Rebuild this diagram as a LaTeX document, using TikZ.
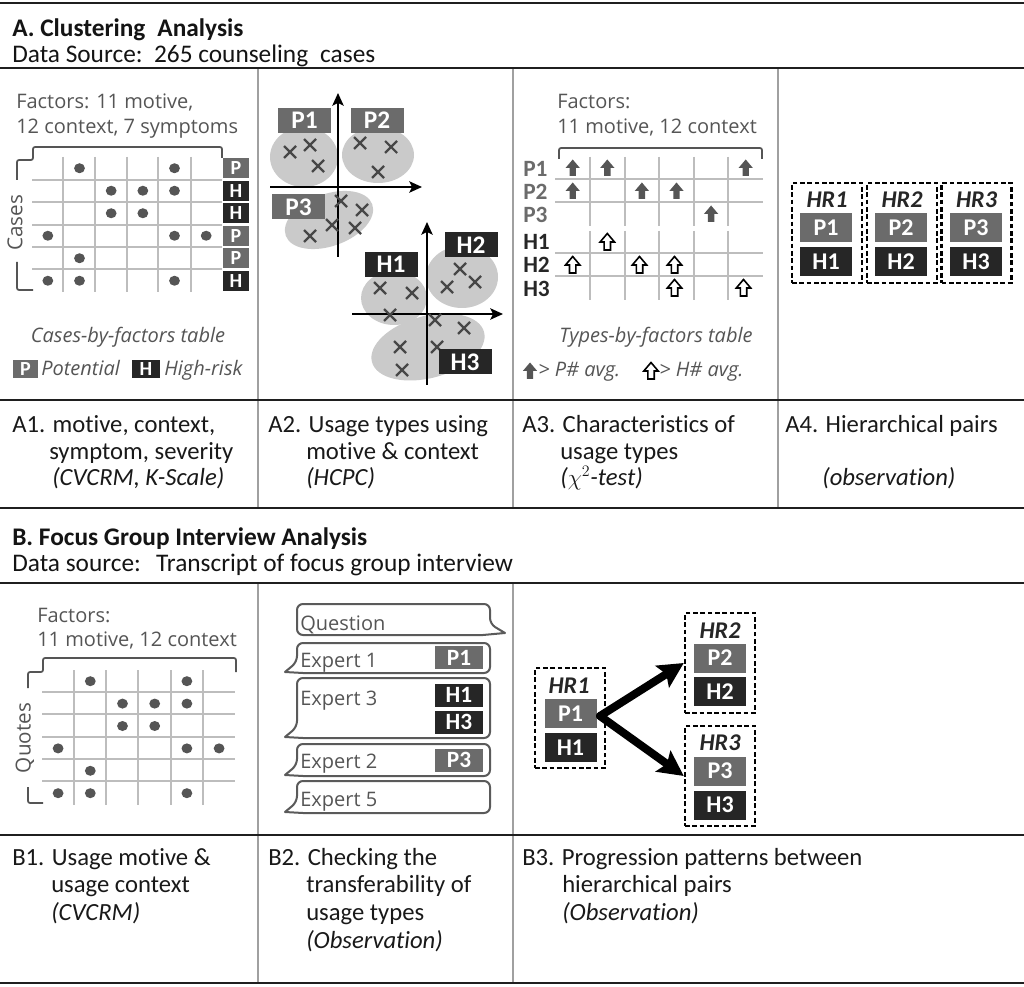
\documentclass[tikz,border=0pt]{standalone}
\usepackage{fontspec}
\setmainfont{Carlito}[Ligatures={CommonOff,ContextualOff}]
\newfontfamily\osans{Open Sans}
\usetikzlibrary{arrows.meta}
\definecolor{pg}{HTML}{6B6B6B}
\definecolor{hb}{HTML}{262626}
\definecolor{txg}{HTML}{555555}
\definecolor{gl}{HTML}{BDBDBD}
\definecolor{ellc}{HTML}{CACACA}
\definecolor{sep}{HTML}{A0A0A0}
\definecolor{crsc}{HTML}{474747}
\definecolor{bubc}{HTML}{5A5A5A}
\newcommand\crossat[2]{\draw[crossst] (#1-6,#2-6) -- (#1+6,#2+6) (#1-6,#2+6) -- (#1+6,#2-6);}
\newcommand\blkup[3]{\draw[#1] (#2,#3-8.5) -- (#2+7.2,#3) -- (#2+3.2,#3) -- (#2+3.2,#3+8) -- (#2-3.2,#3+8) -- (#2-3.2,#3) -- (#2-7.2,#3) -- cycle;}
\newcommand\lbub[2]{\draw[bub] (285,#2-1) -- (303,#2) [rounded corners=4.5pt] -- (490,#2) -- (490,#1) -- (297,#1) -- (297,#2-11) [sharp corners] -- cycle;}
\begin{document}
\begin{tikzpicture}[x=0.75pt,y=-0.75pt,
  hline/.style={line width=2pt, draw=black!88},
  vsep/.style={line width=1.4pt, draw=sep},
  gridl/.style={line width=1pt, draw=gl},
  brk/.style={line width=1.3pt, draw=txg, rounded corners=1.5pt},
  dotc/.style={fill=txg},
  pbox/.style={rectangle, fill=pg, text=white, inner sep=0pt},
  hbox/.style={pbox, fill=hb},
  smallbox/.style={minimum width=19.5pt, minimum height=15pt, font=\bfseries\fontsize{15}{15}\selectfont},
  a2box/.style={minimum width=39.75pt, minimum height=18.75pt, font=\bfseries\fontsize{19}{19}\selectfont},
  boxb/.style={minimum width=39pt, minimum height=21.75pt, font=\bfseries\fontsize{18}{18}\selectfont},
  b2box/.style={minimum width=36pt, minimum height=17.25pt, font=\bfseries\fontsize{17.5}{17.5}\selectfont},
  hrbox/.style={draw=black, line width=1.8pt, dash pattern=on 3.5pt off 2pt, inner sep=0pt, minimum width=52.5pt, minimum height=75pt},
  hrlab/.style={inner sep=0pt, font=\bfseries\itshape\fontsize{18}{18}\selectfont, text=hb},
  ftxt/.style={font=\osans\fontsize{15}{18}\selectfont, text=txg, inner sep=0pt, anchor=base west},
  fitxt/.style={font=\osans\itshape\fontsize{15}{18}\selectfont, text=txg, inner sep=0pt},
  rtxt/.style={font=\fontsize{18.5}{22}\selectfont, text=black!90, inner sep=0pt, anchor=base west},
  ttl/.style={font=\bfseries\fontsize{19}{23}\selectfont, text=black!92, inner sep=0pt, anchor=base west},
  sub/.style={font=\fontsize{19}{23}\selectfont, text=black!92, inner sep=0pt, anchor=base west},
  rowlab/.style={font=\bfseries\fontsize{17.5}{17.5}\selectfont, inner sep=0pt, anchor=base west},
  axis/.style={line width=1.5pt, draw=black, -{Stealth[length=9.5pt,width=8.5pt,inset=2pt]}},
  crossst/.style={line width=1.6pt, draw=crsc},
  upf/.style={fill=txg, draw=none},
  upo/.style={fill=white, draw=black, line width=1.2pt, line join=miter},
  bub/.style={draw=bubc, line width=1.5pt, fill=white, line join=round},
  bigarr/.style={line width=6pt, draw=black, line cap=round, -{Stealth[length=19pt,width=19pt,inset=3.5pt]}}
]
\useasboundingbox (0,0) rectangle (1024,987);
\fill[white] (0,0) rectangle (1024,987);

% ---------- frame ----------
\foreach \x in {258,513,778} \draw[vsep] (\x,68) -- (\x,508);
\foreach \x in {258,513} \draw[vsep] (\x,583) -- (\x,983);
\foreach \y in {3,68,400,508,583,835,983} \draw[hline] (0,\y) -- (1024,\y);

% ---------- titles ----------
\node[ttl] (ta) at (12,37) {A. Clustering\hspace{0.25em} Analysis};
\node[sub] (sa) at (12,63) {Data Source:\hspace{0.15em} 265 counseling\hspace{0.25em} cases};
\node[ttl] (tb) at (12,545) {B. Focus Group Interview Analysis};
\node[sub] (sb) at (12,571) {Data source:\hspace{0.3em} Transcript of focus group interview};

% ---------- A1 ----------
\node[ftxt] (a1f1) at (16,109) {Factors: 11 motive,};
\node[ftxt] (a1f2) at (16,134) {12 context, 7 symptoms};
\draw[brk] (17,180) -- (17,160) -- (33,160) -- (33,147) -- (222,147) -- (222,158);
\draw[brk] (17,262) -- (17,290) -- (33,290);
\node[font=\osans\fontsize{15.5}{18}\selectfont, text=txg, rotate=90, inner sep=0pt] (a1cases) at (15,223) {Cases};
\foreach \x in {63,95,127,158,191} \draw[gridl] (\x,157) -- (\x,292);
\foreach \y in {180,202,225,247,269} \draw[gridl] (32,\y) -- (222,\y);
\foreach \c/\r in {2/1,5/1,3/2,4/2,5/2,3/3,4/3,1/4,5/4,6/4,2/5,1/6,2/6,5/6}
  \fill[dotc] ({32+(\c-0.5)*31.67},{157+(\r-0.5)*22.5}) ellipse [x radius=5.4, y radius=5];
\node[pbox,smallbox] (a1l1) at (236,168.2) {P};
\node[hbox,smallbox] (a1l2) at (236,190.8) {H};
\node[hbox,smallbox] (a1l3) at (236,213.2) {H};
\node[pbox,smallbox] (a1l4) at (236,235.8) {P};
\node[pbox,smallbox] (a1l5) at (236,258.2) {P};
\node[hbox,smallbox] (a1l6) at (236,280.8) {H};
\node[fitxt, anchor=base] (a1cap) at (128,343) {Cases-by-factors table};
\node[pbox,smallbox,minimum width=18.75pt,minimum height=13.5pt] (a1lp) at (25.5,369) {P};
\node[fitxt, anchor=base west] (a1pot) at (41,376) {Potential};
\node[hbox,smallbox,minimum width=21pt,minimum height=13.5pt] (a1lh) at (146,369) {H};
\node[fitxt, anchor=base west] (a1hr) at (164,376) {High-risk};

% ---------- A2 ----------
\fill[ellc] (304,157) ellipse [x radius=34, y radius=30];
\fill[ellc] (378,155) ellipse [x radius=36, y radius=28];
\fill[ellc, rotate around={20:(329,220)}] (329,220) ellipse [x radius=46, y radius=26];
\fill[ellc] (394,298) ellipse [x radius=33, y radius=27];
\fill[ellc] (462,277) ellipse [x radius=36, y radius=31];
\fill[ellc, rotate around={15:(428,347)}] (428,347) ellipse [x radius=58, y radius=31];
\coordinate (ax1b) at (338,257); \coordinate (ax1t) at (338,93);
\coordinate (ax1l) at (270,187); \coordinate (ax1r) at (422,187);
\coordinate (ax2b) at (427,385); \coordinate (ax2t) at (427,222);
\coordinate (ax2l) at (352,314); \coordinate (ax2r) at (503,314);
\draw[axis] (ax1b) -- (ax1t);
\draw[axis] (ax1l) -- (ax1r);
\draw[axis] (ax2b) -- (ax2t);
\draw[axis] (ax2l) -- (ax2r);
\crossat{290}{152}\crossat{310}{145}\crossat{318}{166}
\crossat{360}{143}\crossat{391}{147}\crossat{378}{172}
\crossat{341}{201}\crossat{362}{210}\crossat{332}{225}\crossat{355}{228}\crossat{310}{236}
\crossat{380}{288}\crossat{412}{293}\crossat{390}{315}
\crossat{460}{269}\crossat{447}{287}\crossat{475}{282}
\crossat{435}{320}\crossat{464}{328}\crossat{400}{347}\crossat{437}{347}\crossat{402}{370}
\node[pbox,a2box] (a2p1) at (304.5,120.5) {P1};
\node[pbox,a2box] (a2p2) at (377,120.5) {P2};
\node[pbox,a2box] (a2p3) at (298.5,207) {P3};
\node[hbox,a2box] (a2h1) at (391,264.5) {H1};
\node[hbox,a2box] (a2h2) at (471,245) {H2};
\node[hbox,a2box] (a2h3) at (465,362) {H3};

% ---------- A3 ----------
\node[ftxt] (a3f1) at (557,109) {Factors:};
\node[ftxt] (a3f2) at (557,134) {11 motive, 12 context};
\draw[brk] (559,159) -- (559,148) -- (762,148) -- (762,159);
\foreach \x in {590,625,659,694,728} {\draw[gridl] (\x,157) -- (\x,226); \draw[gridl] (\x,231) -- (\x,300);}
\foreach \y in {179,202,253,276} \draw[gridl] (555,\y) -- (763,\y);
\node[rowlab, text=pg] (a3r1) at (523,177) {P1};
\node[rowlab, text=pg] (a3r2) at (523,200) {P2};
\node[rowlab, text=pg] (a3r3) at (523,223) {P3};
\node[rowlab, text=hb] (a3r4) at (523,250) {H1};
\node[rowlab, text=hb] (a3r5) at (523,273) {H2};
\node[rowlab, text=hb] (a3r6) at (523,297) {H3};
\blkup{upf}{572.7}{168}\blkup{upf}{607.3}{168}\blkup{upf}{745.7}{168}
\blkup{upf}{572.7}{191}\blkup{upf}{641.9}{191}\blkup{upf}{676.5}{191}
\blkup{upf}{711.1}{214}
\blkup{upo}{607.3}{242}
\blkup{upo}{572.7}{265}\blkup{upo}{639.5}{265}\blkup{upo}{674.5}{265}
\blkup{upo}{674.5}{288}\blkup{upo}{743.5}{288}
\node[fitxt, anchor=base] (a3cap) at (656,343) {Types-by-factors table};
\blkup{upf}{530}{371}
\node[fitxt, anchor=base west] (a3lp) at (538,377) {> P\# avg.};
\blkup{upo}{651}{371}
\node[fitxt, anchor=base west] (a3lh) at (659,377) {> H\# avg.};

% ---------- A4 ----------
\node[hrbox] (hra1) at (827,233) {};
\node[hrlab] (hra1t) at (827,200) {HR1};
\node[pbox,boxb] (hra1p) at (826,227.5) {P1};
\node[hbox,boxb] (hra1h) at (826,261.5) {H1};
\node[hrbox] (hra2) at (902,233) {};
\node[hrlab] (hra2t) at (902,200) {HR2};
\node[pbox,boxb] (hra2p) at (901,227.5) {P2};
\node[hbox,boxb] (hra2h) at (901,261.5) {H2};
\node[hrbox] (hra3) at (976.5,233) {};
\node[hrlab] (hra3t) at (976.5,200) {HR3};
\node[pbox,boxb] (hra3p) at (976,227.5) {P3};
\node[hbox,boxb] (hra3h) at (976,261.5) {H3};

% ---------- row A text ----------
\node[rtxt] (a1t1) at (12,432) {A1. motive, context,};
\node[rtxt] (a1t2) at (49,459) {symptom, severity};
\node[rtxt] (a1t3) at (52,485) {\textit{(CVCRM, K-Scale)}};
\node[rtxt] (a2t1) at (268,432) {A2. Usage types using};
\node[rtxt] (a2t2) at (306,459) {motive \& context};
\node[rtxt] (a2t3) at (306,485) {\textit{(HCPC)}};
\node[rtxt] (a3t1) at (522,432) {A3. Characteristics of};
\node[rtxt] (a3t2) at (560,459) {usage types};
\node[rtxt] (a3t3) at (560,485) {\textit{($\chi^{2}$-test)}};
\node[rtxt] (a4t1) at (785,432) {A4. Hierarchical pairs};
\node[rtxt] (a4t3) at (822,485) {\textit{(observation)}};

% ---------- B1 ----------
\node[ftxt] (b1f1) at (37,622) {Factors:};
\node[ftxt] (b1f2) at (37,646) {11 motive, 12 context};
\draw[brk] (28,688) -- (28,672) -- (43,672) -- (43,658) -- (236,658) -- (236,672);
\draw[brk] (28,787) -- (28,803) -- (43,803);
\node[font=\osans\fontsize{15.5}{18}\selectfont, text=txg, rotate=90, inner sep=0pt] (b1q) at (25,738) {Quotes};
\foreach \x in {74,106,138,171,203} \draw[gridl] (\x,670) -- (\x,805);
\foreach \y in {692,714,737,759,781} \draw[gridl] (42,\y) -- (235,\y);
\foreach \c/\r in {2/1,5/1,3/2,4/2,5/2,3/3,4/3,1/4,5/4,6/4,2/5,1/6,2/6,5/6}
  \fill[dotc] ({42+(\c-0.5)*32.2},{670+(\r-0.5)*22.4}) ellipse [x radius=5.4, y radius=5];

% ---------- B2 ----------
\draw[bub] (505,633) -- (483,635) [rounded corners=4.5pt] -- (297,635) -- (297,604) -- (490,604) -- (490,624) [sharp corners] -- cycle;
\lbub{643}{673}
\lbub{678}{738}
\lbub{744}{776}
\lbub{781}{813}
\node[ftxt] (bq) at (300,630) {Question};
\node[ftxt] (be1) at (300,667) {Expert 1};
\node[ftxt] (be3) at (300,705) {Expert 3};
\node[ftxt] (be2) at (300,768) {Expert 2};
\node[ftxt] (be5) at (300,806) {Expert 5};
\node[pbox,b2box] (b2p1) at (459,657.5) {P1};
\node[hbox,b2box] (b2h1) at (459,695) {H1};
\node[hbox,b2box] (b2h3) at (459,722) {H3};
\node[pbox,b2box] (b2p3) at (459,760) {P3};

% ---------- B3 ----------
\node[hrbox] (hrb1) at (570,718) {};
\node[hrlab] (hrb1t) at (569,686) {HR1};
\node[pbox,boxb] (hrb1p) at (570.5,713.5) {P1};
\node[hbox,boxb] (hrb1h) at (570.5,747.5) {H1};
\node[hrbox] (hrb2) at (720,663) {};
\node[hrlab] (hrb2t) at (720,631) {HR2};
\node[pbox,boxb] (hrb2p) at (720,658) {P2};
\node[hbox,boxb] (hrb2h) at (720,691.5) {H2};
\node[hrbox] (hrb3) at (720,776) {};
\node[hrlab] (hrb3t) at (720,743) {HR3};
\node[pbox,boxb] (hrb3p) at (720,771) {P3};
\node[hbox,boxb] (hrb3h) at (720,805) {H3};
\coordinate (bst) at (600,716);
\draw[bigarr] (bst) -- (hrb2.west);
\draw[bigarr] (bst) -- (hrb3.west);

% ---------- row B text ----------
\node[rtxt] (b1t1) at (12,865) {B1. Usage motive \&};
\node[rtxt] (b1t2) at (51,892) {usage context};
\node[rtxt] (b1t3) at (51,920) {\textit{(CVCRM)}};
\node[rtxt] (b2t1) at (268,865) {B2. Checking the};
\node[rtxt] (b2t2) at (306,892) {transferability of};
\node[rtxt] (b2t3) at (306,920) {usage types};
\node[rtxt] (b2t4) at (306,948) {\textit{(Observation)}};
\node[rtxt] (b3t1) at (522,865) {B3. Progression patterns between};
\node[rtxt] (b3t2) at (562,892) {hierarchical pairs};
\node[rtxt] (b3t3) at (562,920) {\textit{(Observation)}};
\end{tikzpicture}
\end{document}
